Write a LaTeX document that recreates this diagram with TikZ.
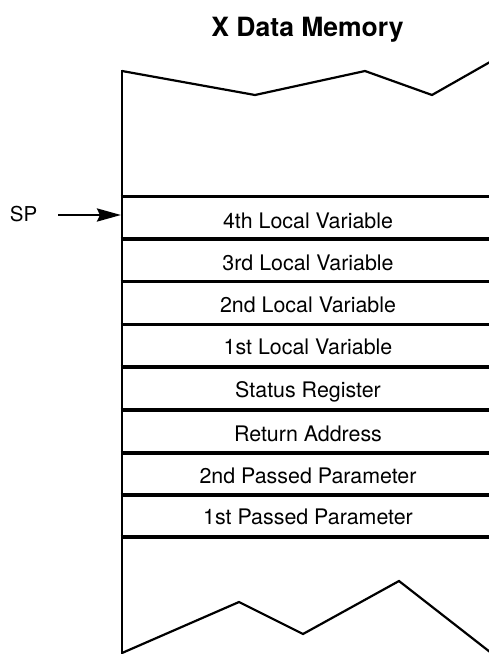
\documentclass[tikz,border=0pt]{standalone}
\usepackage{fontspec}
\setmainfont{TeX Gyre Heros}
\usetikzlibrary{arrows.meta}
\tikzset{
  frame/.style={line width=2.8pt},
  rowline/.style={line width=3.2pt},
  zig/.style={line width=2.2pt, line join=miter},
  celltext/.style={anchor=base, inner sep=0pt, font=\fontsize{21.4}{25}\selectfont},
  sptext/.style={anchor=base, inner sep=0pt, font=\fontsize{20.5}{24}\selectfont},
  titletext/.style={anchor=base, inner sep=0pt, font=\fontsize{26.5}{30}\selectfont\bfseries},
  sparrow/.style={line width=2.8pt, -{Stealth[length=24pt,width=13pt,inset=3pt]}}
}
\begin{document}
\begin{tikzpicture}[x=1pt,y=-1pt]
\useasboundingbox (0,0) rectangle (489,654);
% title
\node[titletext] (title) at (307.5,36) {X Data Memory};
% left frame line
\draw[frame] (122,70) -- (122,655);
% top zigzag
\draw[zig] (122,71) -- (255,95) -- (365,71) -- (432,95) -- (490,62);
% bottom zigzag
\draw[zig] (122,653) -- (239,602) -- (303,634) -- (399,581) -- (490,652);
% row lines
\foreach \yy in {196.5,239,281.5,324.5,367,410,453,495,537}
  \draw[rowline] (120.6,\yy) -- (490,\yy);
% cell texts
\node[celltext] (r1) at (308,228) {4th Local Variable};
\node[celltext] (r2) at (308,270.5) {3rd Local Variable};
\node[celltext] (r3) at (308,312.5) {2nd Local Variable};
\node[celltext] (r4) at (308,354.5) {1st Local Variable};
\node[celltext] (r5) at (308,397) {Status Register};
\node[celltext] (r6) at (308,441) {Return Address};
\node[celltext] (r7) at (308,483) {2nd Passed Parameter};
\node[celltext] (r8) at (308,524) {1st Passed Parameter};
% SP pointer
\node[sptext] (sp) at (23.5,221) {SP};
\coordinate (spstart) at (58,215);
\coordinate (sptip) at (121,215);
\draw[sparrow] (spstart) -- (sptip);
\end{tikzpicture}
\end{document}
